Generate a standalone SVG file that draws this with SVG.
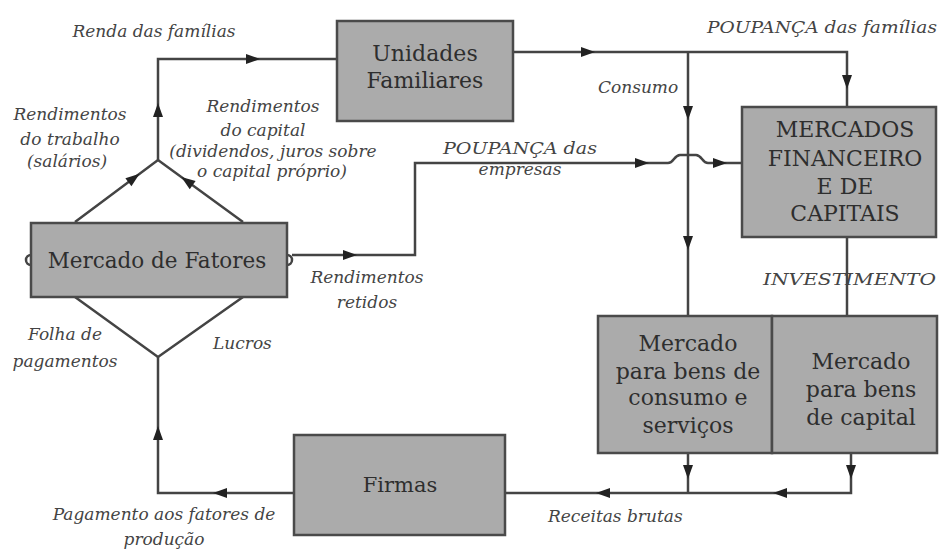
<svg xmlns="http://www.w3.org/2000/svg" xmlns:xlink="http://www.w3.org/1999/xlink" width="939" height="549" viewBox="0 0 939 549">
<style>
.box{fill:#ababab;stroke:#4a4a4a;stroke-width:2.5}
.ln{fill:none;stroke:#444;stroke-width:2.5}
.bt{font-family:'DejaVu Serif',serif;fill:#2e2e2e;text-anchor:middle}
.lb{font-family:'DejaVu Serif',serif;font-style:italic;fill:#444;font-size:17px}
.c{text-anchor:middle}
.e{text-anchor:end}
</style>
<defs>
<path id="ah" d="M-7,-5 L7,0 L-7,5 Z" fill="#222"/>
</defs>
<rect width="939" height="549" fill="#fff"/>
<g id="connectors">
<path class="ln" d="M337,59 H158 V160"/>
<path class="ln" d="M75,222 L158,160 L243,222"/>
<path class="ln" d="M75,297 L158,357 L243,297"/>
<path class="ln" d="M158,357 V493 H294"/>
<path class="ln" d="M292,255 H415 V163 H668 C674,163 674,155 680,155 H696 C702,155 702,163 708,163 H742"/>
<path class="ln" d="M513,52 H847 V107"/>
<path class="ln" d="M688,52 V316"/>
<path class="ln" d="M847,237 V316"/>
<path class="ln" d="M688,453 V493"/>
<path class="ln" d="M851,453 V493 H505"/>
<path class="ln" d="M31,255 A5,5 0 0 0 31,265" stroke-width="2"/>
<path class="ln" d="M287,255 A5,5 0 0 1 287,265" stroke-width="2"/>
<use xlink:href="#ah" transform="translate(253,59)"/>
<use xlink:href="#ah" transform="translate(158,110) rotate(-90)"/>
<use xlink:href="#ah" transform="translate(134,178) rotate(-37)"/>
<use xlink:href="#ah" transform="translate(187,181) rotate(-144)"/>
<use xlink:href="#ah" transform="translate(158,433) rotate(-90)"/>
<use xlink:href="#ah" transform="translate(220,493) rotate(180)"/>
<use xlink:href="#ah" transform="translate(350,255)"/>
<use xlink:href="#ah" transform="translate(642,163)"/>
<use xlink:href="#ah" transform="translate(720,163)"/>
<use xlink:href="#ah" transform="translate(588,52)"/>
<use xlink:href="#ah" transform="translate(847,82) rotate(90)"/>
<use xlink:href="#ah" transform="translate(688,113) rotate(90)"/>
<use xlink:href="#ah" transform="translate(688,243) rotate(90)"/>
<use xlink:href="#ah" transform="translate(688,472) rotate(90)"/>
<use xlink:href="#ah" transform="translate(851,472) rotate(90)"/>
<use xlink:href="#ah" transform="translate(603,493) rotate(180)"/>
<use xlink:href="#ah" transform="translate(780,493) rotate(180)"/>
</g>
<g id="unidades">
<rect class="box" x="337" y="21" width="176" height="100"/>
<text class="bt" x="425" y="61" font-size="22">Unidades</text>
<text class="bt" x="425" y="88" font-size="22">Familiares</text>
</g>
<g id="mercados-financeiro">
<rect class="box" x="742" y="107" width="194" height="130"/>
<text class="bt" x="845" y="137" font-size="22">MERCADOS</text>
<text class="bt" x="845" y="166" font-size="22">FINANCEIRO</text>
<text class="bt" x="845" y="194" font-size="22">E DE</text>
<text class="bt" x="845" y="221" font-size="22">CAPITAIS</text>
</g>
<g id="mercado-fatores">
<rect class="box" x="31" y="223" width="256" height="74"/>
<text class="bt" x="157" y="268" font-size="21.5">Mercado de Fatores</text>
</g>
<g id="mercado-consumo">
<rect class="box" x="598" y="316" width="174" height="137"/>
<text class="bt" x="688" y="351" font-size="22">Mercado</text>
<text class="bt" x="688" y="379" font-size="22">para bens de</text>
<text class="bt" x="688" y="405" font-size="22">consumo e</text>
<text class="bt" x="688" y="433" font-size="22">serviços</text>
</g>
<g id="mercado-capital">
<rect class="box" x="772" y="316" width="165" height="137"/>
<text class="bt" x="861" y="369" font-size="22">Mercado</text>
<text class="bt" x="861" y="397" font-size="22">para bens</text>
<text class="bt" x="861" y="425" font-size="22">de capital</text>
</g>
<g id="firmas">
<rect class="box" x="294" y="435" width="211" height="100"/>
<text class="bt" x="400" y="492" font-size="21">Firmas</text>
</g>
<g id="labels">
<text class="lb c" x="154" y="37">Renda das famílias</text>
<text class="lb c" x="70" y="120">Rendimentos</text>
<text class="lb c" x="70" y="145">do trabalho</text>
<text class="lb c" x="67" y="167" font-size="15">(salários)</text>
<text class="lb c" x="263" y="112">Rendimentos</text>
<text class="lb c" x="263" y="136">do capital</text>
<text class="lb c" x="273" y="157" font-size="14">(dividendos, juros sobre</text>
<text class="lb c" x="272" y="177" font-size="14.5">o capital próprio)</text>
<text class="lb" x="598" y="93">Consumo</text>
<text class="lb" x="707" y="33" font-size="19" textLength="230" lengthAdjust="spacingAndGlyphs">POUPANÇA das famílias</text>
<text class="lb" x="443" y="154" font-size="19" textLength="154" lengthAdjust="spacingAndGlyphs">POUPANÇA das</text>
<text class="lb c" x="520" y="175" font-size="16">empresas</text>
<text class="lb" x="763" y="285" font-size="21" textLength="173" lengthAdjust="spacingAndGlyphs">INVESTIMENTO</text>
<text class="lb c" x="367" y="283">Rendimentos</text>
<text class="lb c" x="367" y="308" font-size="16">retidos</text>
<text class="lb c" x="65" y="340">Folha de</text>
<text class="lb c" x="65" y="367">pagamentos</text>
<text class="lb" x="213" y="349">Lucros</text>
<text class="lb c" x="164" y="520">Pagamento aos fatores de</text>
<text class="lb c" x="164" y="545" font-size="16">produção</text>
<text class="lb" x="548" y="522">Receitas brutas</text>
</g>
</svg>
